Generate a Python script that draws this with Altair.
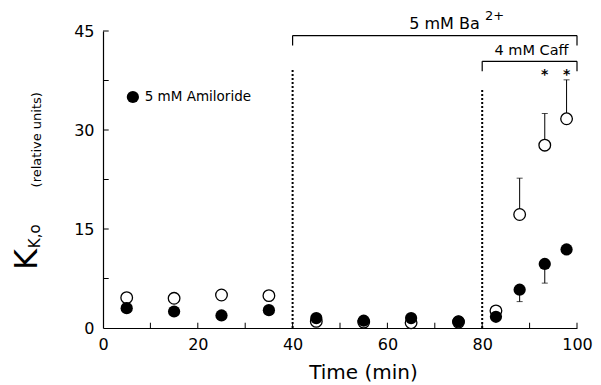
import altair as alt
import pandas as pd

# ---- data ----
times = [5, 15, 25, 35, 45, 55, 65, 75, 82.9, 87.9, 93.2, 97.8]
control = [4.6, 4.5, 5.0, 4.9, 1.0, 0.9, 0.8, 0.9, 2.6, 17.2, 27.7, 31.7]
amiloride = [3.0, 2.5, 1.9, 2.7, 1.5, 1.1, 1.5, 1.0, 1.7, 5.8, 9.7, 11.9]

control_err_t = [87.9, 93.2, 97.8]
control_err_top = [22.7, 32.5, 37.6]
amil_err_t = [87.9, 93.2]
amil_err_bottom = [4.0, 6.8]

star_t = [93.2, 97.8]
star_y = [37.8, 37.8]

x_labels = [0, 20, 40, 60, 80, 100]
y_labels = [0, 15, 30, 45]
x_minor = [10, 20, 30, 40, 50, 60, 70, 80, 90, 100]
y_minor = [7.5, 15, 22.5, 30, 37.5, 45]

# treatment markers (dotted lines) and brackets
dotted_t = [40, 80]
dotted_top = [39.1, 36.1]
bracket_start = [40, 80]
bracket_end = [100, 100]
bracket_y = [44.3, 40.4]
bracket_drop = [42.8, 38.9]

FONT = "DejaVu Sans"
XS = alt.Scale(domain=[0, 100], nice=False, zero=False)
YS = alt.Scale(domain=[0, 45], nice=False, zero=False)

X_AXIS = alt.Axis(
    values=x_labels, ticks=False, grid=False, domainColor="black", domainWidth=1.2,
    labelFont=FONT, labelFontSize=16, labelColor="black", labelPadding=8, labelFlush=False,
    title="Time (min)", titleFont=FONT, titleFontSize=20, titleFontWeight="normal",
    titleColor="black", titleX=260, titleY=50, titleBaseline="alphabetic")
Y_AXIS = alt.Axis(
    values=y_labels, ticks=False, grid=False, domainColor="black", domainWidth=1.2,
    labelFont=FONT, labelFontSize=16, labelColor="black", labelPadding=9, labelFlush=False,
    title="")


def X(field="x"):
    return alt.X(f"{field}:Q", scale=XS, axis=X_AXIS)


def Y(field="y"):
    return alt.Y(f"{field}:Q", scale=YS, axis=Y_AXIS)


df_ctrl = pd.DataFrame({"x": times, "y": control})
df_amil = pd.DataFrame({"x": times, "y": amiloride})
df_cerr = pd.DataFrame({"x": control_err_t, "y": [control[times.index(t)] for t in control_err_t],
                        "y2": control_err_top})
df_aerr = pd.DataFrame({"x": amil_err_t, "y": [amiloride[times.index(t)] for t in amil_err_t],
                        "y2": amil_err_bottom})

# inward axis ticks
df_xt = pd.DataFrame({"x": x_minor, "y": [0] * len(x_minor), "y2": [0.8] * len(x_minor)})
df_yt = pd.DataFrame({"x": [0] * len(y_minor), "x2": [1.2] * len(y_minor), "y": y_minor})

xticks = alt.Chart(df_xt).mark_rule(color="black", strokeWidth=1).encode(x=X(), y=Y(), y2="y2:Q")
yticks = alt.Chart(df_yt).mark_rule(color="black", strokeWidth=1).encode(x=X(), x2="x2:Q", y=Y())

df_dot = pd.DataFrame({"x": dotted_t, "y": [0, 0], "y2": dotted_top})
dotted = alt.Chart(df_dot).mark_rule(color="black", strokeWidth=2, strokeDash=[2, 2]).encode(
    x=X(), y=Y(), y2="y2:Q")

df_bh = pd.DataFrame({"x": bracket_start, "x2": bracket_end, "y": bracket_y})
br_h = alt.Chart(df_bh).mark_rule(color="black", strokeWidth=1.2).encode(x=X(), x2="x2:Q", y=Y())
df_bv = pd.DataFrame({"x": bracket_start + bracket_end, "y": bracket_y + bracket_y,
                      "y2": bracket_drop + bracket_drop})
br_v = alt.Chart(df_bv).mark_rule(color="black", strokeWidth=1.2).encode(x=X(), y=Y(), y2="y2:Q")

err_c = alt.Chart(df_cerr).mark_rule(color="black", strokeWidth=1).encode(x=X(), y=Y(), y2="y2:Q")
cap_c = alt.Chart(df_cerr).mark_tick(color="black", orient="horizontal", size=6, thickness=1).encode(
    x=X(), y=Y("y2"))
err_a = alt.Chart(df_aerr).mark_rule(color="black", strokeWidth=1).encode(x=X(), y=Y(), y2="y2:Q")
cap_a = alt.Chart(df_aerr).mark_tick(color="black", orient="horizontal", size=6, thickness=1).encode(
    x=X(), y=Y("y2"))

open_pts = alt.Chart(df_ctrl).mark_point(shape="circle", filled=True, fill="white", stroke="black",
                                         strokeWidth=1.3, size=135, opacity=1).encode(x=X(), y=Y())
fill_pts = alt.Chart(df_amil).mark_point(shape="circle", filled=True, color="black",
                                         size=150, opacity=1).encode(x=X(), y=Y())

df_star = pd.DataFrame({"x": star_t, "y": star_y, "t": ["*", "*"]})
stars = alt.Chart(df_star).mark_text(font=FONT, fontSize=14, fontWeight="bold", color="black",
                                     baseline="alphabetic").encode(x=X(), y=Y(), text="t:N")

# legend
df_leg_pt = pd.DataFrame({"x": [6.3], "y": [35.0]})
leg_pt = alt.Chart(df_leg_pt).mark_point(shape="circle", filled=True, color="black", size=150,
                                         opacity=1).encode(x=X(), y=Y())
df_leg_tx = pd.DataFrame({"x": [8.8], "y": [35.0], "t": ["5 mM Amiloride"]})
leg_tx = alt.Chart(df_leg_tx).mark_text(font=FONT, fontSize=13.5, color="black", align="left",
                                        baseline="middle").encode(x=X(), y=Y(), text="t:N")

# bracket labels
df_ba = pd.DataFrame({"x": [64.6], "y": [45.3], "t": ["5  mM Ba"]})
ba = alt.Chart(df_ba).mark_text(font=FONT, fontSize=16, color="black", align="left",
                                baseline="alphabetic").encode(x=X(), y=Y(), text="t:N")
df_sup = pd.DataFrame({"x": [80.6], "y": [46.6], "t": ["2+"]})
sup = alt.Chart(df_sup).mark_text(font=FONT, fontSize=13, color="black", align="left",
                                  baseline="alphabetic").encode(x=X(), y=Y(), text="t:N")
df_caff = pd.DataFrame({"x": [90.4], "y": [41.3], "t": ["4 mM Caff"]})
caff = alt.Chart(df_caff).mark_text(font=FONT, fontSize=14.5, color="black", align="center",
                                    baseline="alphabetic").encode(x=X(), y=Y(), text="t:N")

# y axis label: K_{K,o} (relative units)
df_k = pd.DataFrame({"x": [-13.9], "y": [8.8], "t": ["K"]})
ylab_k = alt.Chart(df_k).mark_text(font=FONT, fontSize=32, color="black", align="left",
                                   baseline="alphabetic", angle=270).encode(x=X(), y=Y(), text="t:N")
df_ks = pd.DataFrame({"x": [-13.3], "y": [12.1], "t": ["K,o"]})
ylab_ks = alt.Chart(df_ks).mark_text(font=FONT, fontSize=15, color="black", align="left",
                                     baseline="alphabetic", angle=270).encode(x=X(), y=Y(), text="t:N")
df_ru = pd.DataFrame({"x": [-13.1], "y": [21.3], "t": ["(relative units)"]})
ylab_ru = alt.Chart(df_ru).mark_text(font=FONT, fontSize=13, color="black", align="left",
                                     baseline="alphabetic", angle=270).encode(x=X(), y=Y(), text="t:N")

chart = alt.layer(
    xticks, yticks, dotted, br_h, br_v, err_c, cap_c, err_a, cap_a,
    open_pts, fill_pts, stars, leg_pt, leg_tx, ba, sup, caff, ylab_k, ylab_ks, ylab_ru
).properties(
    width=474, height=297, background="white",
    padding={"left": 3, "top": 2, "right": 0, "bottom": 0}
).configure_view(strokeWidth=0)

chart.save("out.html", embed_options={"renderer": "svg", "actions": False})
